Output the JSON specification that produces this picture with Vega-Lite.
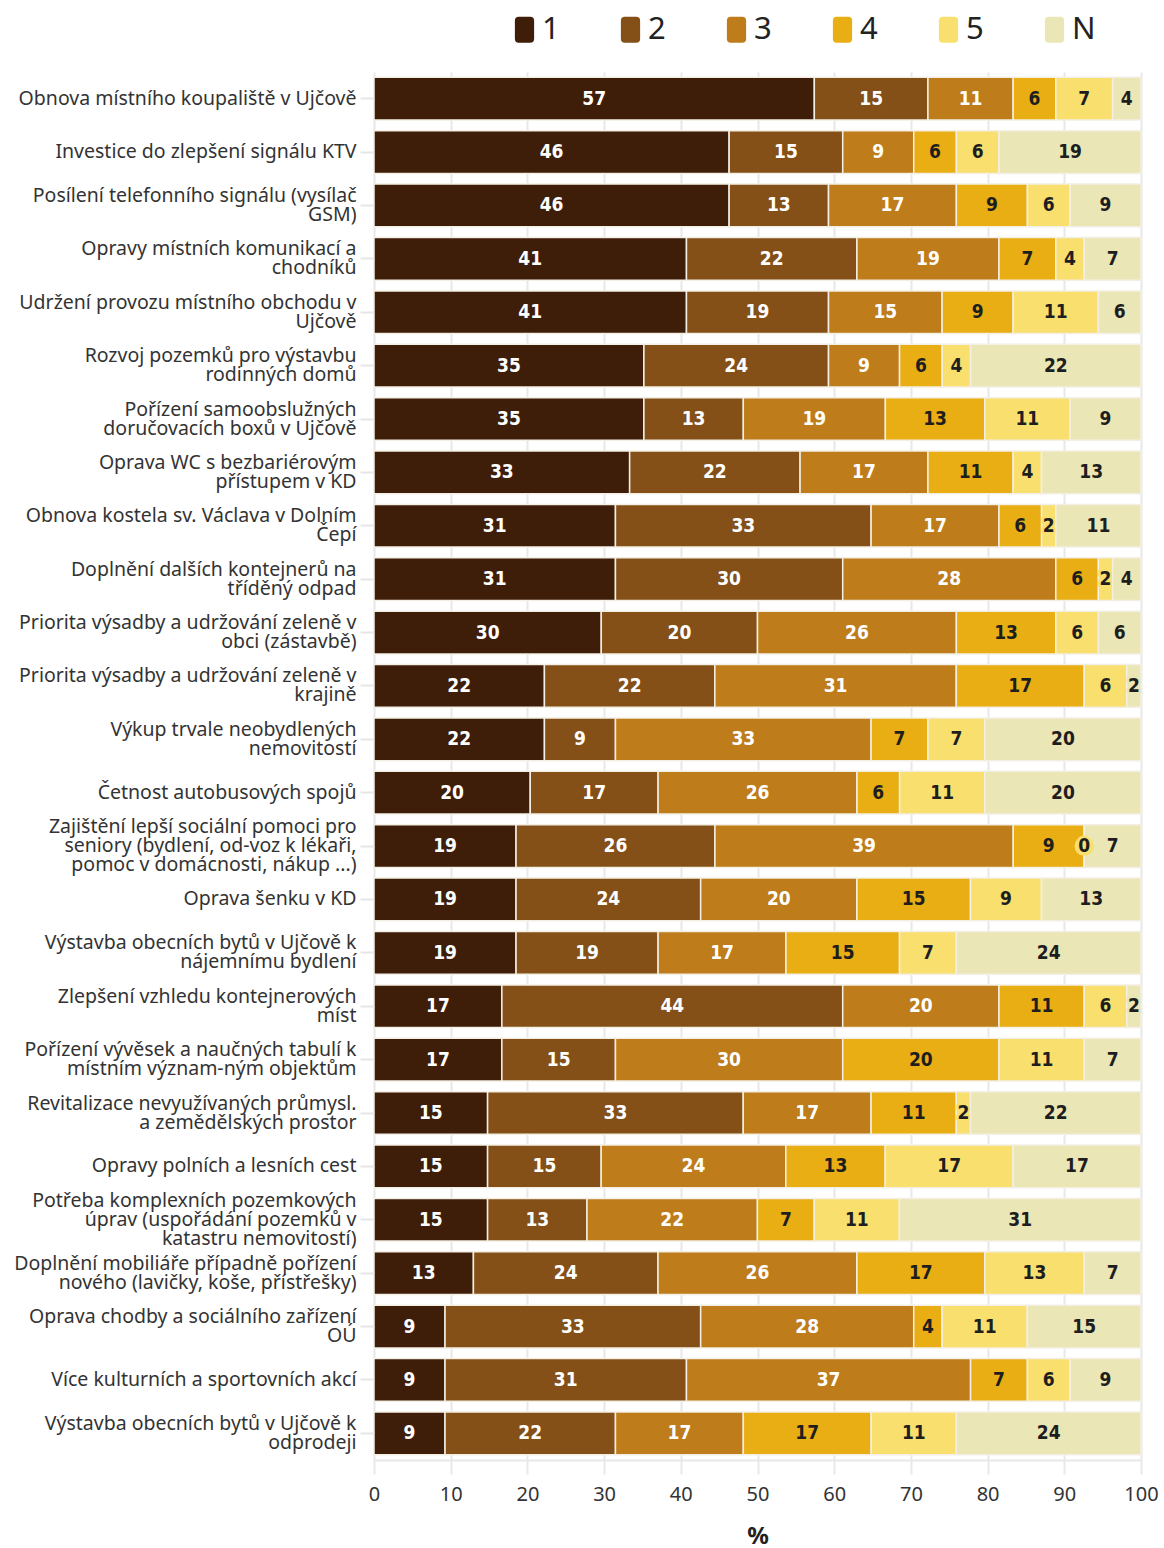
{
  "$schema": "https://vega.github.io/schema/vega-lite/v6.json",
  "width": 767,
  "height": 1388,
  "padding": {"left": 13, "top": 14, "right": 5, "bottom": 5},
  "background": "white",
  "config": {"view": {"stroke": null}, "font": "Noto Sans"},
  "data": {"values": [
    {"q": "Obnova místního koupaliště v Ujčově", "1": 57.41, "2": 14.81, "3": 11.11, "4": 5.56, "5": 7.41, "N": 3.70},
    {"q": "Investice do zlepšení signálu KTV", "1": 46.30, "2": 14.81, "3": 9.26, "4": 5.56, "5": 5.56, "N": 18.52},
    {"q": "Posílení telefonního signálu (vysílač|GSM)", "1": 46.30, "2": 12.96, "3": 16.67, "4": 9.26, "5": 5.56, "N": 9.26},
    {"q": "Opravy místních komunikací a|chodníků", "1": 40.74, "2": 22.22, "3": 18.52, "4": 7.41, "5": 3.70, "N": 7.41},
    {"q": "Udržení provozu místního obchodu v|Ujčově", "1": 40.74, "2": 18.52, "3": 14.81, "4": 9.26, "5": 11.11, "N": 5.56},
    {"q": "Rozvoj pozemků pro výstavbu|rodinných domů", "1": 35.19, "2": 24.07, "3": 9.26, "4": 5.56, "5": 3.70, "N": 22.22},
    {"q": "Pořízení samoobslužných|doručovacích boxů v Ujčově", "1": 35.19, "2": 12.96, "3": 18.52, "4": 12.96, "5": 11.11, "N": 9.26},
    {"q": "Oprava WC s bezbariérovým|přístupem v KD", "1": 33.33, "2": 22.22, "3": 16.67, "4": 11.11, "5": 3.70, "N": 12.96},
    {"q": "Obnova kostela sv. Václava v Dolním|Čepí", "1": 31.48, "2": 33.33, "3": 16.67, "4": 5.56, "5": 1.85, "N": 11.11},
    {"q": "Doplnění dalších kontejnerů na|tříděný odpad", "1": 31.48, "2": 29.63, "3": 27.78, "4": 5.56, "5": 1.85, "N": 3.70},
    {"q": "Priorita výsadby a udržování zeleně v|obci (zástavbě)", "1": 29.63, "2": 20.37, "3": 25.93, "4": 12.96, "5": 5.56, "N": 5.56},
    {"q": "Priorita výsadby a udržování zeleně v|krajině", "1": 22.22, "2": 22.22, "3": 31.48, "4": 16.67, "5": 5.56, "N": 1.85},
    {"q": "Výkup trvale neobydlených|nemovitostí", "1": 22.22, "2": 9.26, "3": 33.33, "4": 7.41, "5": 7.41, "N": 20.37},
    {"q": "Četnost autobusových spojů", "1": 20.37, "2": 16.67, "3": 25.93, "4": 5.56, "5": 11.11, "N": 20.37},
    {"q": "Zajištění lepší sociální pomoci pro|seniory (bydlení, od-voz k lékaři,|pomoc v domácnosti, nákup ...)", "1": 18.52, "2": 25.93, "3": 38.89, "4": 9.26, "5": 0, "N": 7.41},
    {"q": "Oprava šenku v KD", "1": 18.52, "2": 24.07, "3": 20.37, "4": 14.81, "5": 9.26, "N": 12.96},
    {"q": "Výstavba obecních bytů v Ujčově k|nájemnímu bydlení", "1": 18.52, "2": 18.52, "3": 16.67, "4": 14.81, "5": 7.41, "N": 24.07},
    {"q": "Zlepšení vzhledu kontejnerových|míst", "1": 16.67, "2": 44.44, "3": 20.37, "4": 11.11, "5": 5.56, "N": 1.85},
    {"q": "Pořízení vývěsek a naučných tabulí k|místním význam-ným objektům", "1": 16.67, "2": 14.81, "3": 29.63, "4": 20.37, "5": 11.11, "N": 7.41},
    {"q": "Revitalizace nevyužívaných průmysl.|a zemědělských prostor", "1": 14.81, "2": 33.33, "3": 16.67, "4": 11.11, "5": 1.85, "N": 22.22},
    {"q": "Opravy polních a lesních cest", "1": 14.81, "2": 14.81, "3": 24.07, "4": 12.96, "5": 16.67, "N": 16.67},
    {"q": "Potřeba komplexních pozemkových|úprav (uspořádání pozemků v|katastru nemovitostí)", "1": 14.81, "2": 12.96, "3": 22.22, "4": 7.41, "5": 11.11, "N": 31.48},
    {"q": "Doplnění mobiliáře případně pořízení|nového (lavičky, koše, přístřešky)", "1": 12.96, "2": 24.07, "3": 25.93, "4": 16.67, "5": 12.96, "N": 7.41},
    {"q": "Oprava chodby a sociálního zařízení|OÚ", "1": 9.26, "2": 33.33, "3": 27.78, "4": 3.70, "5": 11.11, "N": 14.81},
    {"q": "Více kulturních a sportovních akcí", "1": 9.26, "2": 31.48, "3": 37.04, "4": 7.41, "5": 5.56, "N": 9.26},
    {"q": "Výstavba obecních bytů v Ujčově k|odprodeji", "1": 9.26, "2": 22.22, "3": 16.67, "4": 16.67, "5": 11.11, "N": 24.07}
  ]},
  "transform": [{"fold": ["1", "2", "3", "4", "5", "N"], "as": ["k", "v"]}],
  "encoding": {
    "y": {
      "field": "q", "type": "nominal", "sort": null, "title": null,
      "scale": {"paddingInner": 0.2, "paddingOuter": 0.1},
      "axis": {
        "labelExpr": "split(datum.label, '|')",
        "labelOffset": {"expr": "-(length(split(datum.label, '|')) - 1) * 9.5"},
        "labelFont": "Noto Sans", "labelFontSize": 19.5, "labelColor": "#333",
        "labelLineHeight": 19, "labelLimit": 500, "labelPadding": 4,
        "domain": false, "tickColor": "#e6e6e6", "tickWidth": 2, "tickSize": 14
      }
    }
  },
  "layer": [
    {
      "mark": {"type": "bar", "stroke": "#f4efe4", "strokeWidth": 1.5},
      "encoding": {
        "x": {
          "field": "v", "type": "quantitative", "stack": "zero",
          "scale": {"domain": [0, 100], "nice": false},
          "title": "%",
          "axis": {
            "values": [0, 10, 20, 30, 40, 50, 60, 70, 80, 90, 100],
            "grid": true, "gridColor": "#e8e8e8", "gridWidth": 2,
            "domainColor": "#e8e8e8", "domainWidth": 2,
            "tickColor": "#e8e8e8", "tickWidth": 2, "tickSize": 14,
            "labelFont": "Noto Sans", "labelFontSize": 20, "labelColor": "#333", "labelPadding": 10,
            "labelFlush": false,
            "titleFont": "Noto Sans", "titleFontSize": 24, "titleFontWeight": "bold", "titleColor": "#222", "titlePadding": 20
          }
        },
        "color": {
          "field": "k", "type": "nominal",
          "scale": {"domain": ["1", "2", "3", "4", "5", "N"], "range": ["#3e1d09", "#845017", "#be7c1a", "#e9ae13", "#f9df6e", "#ebe6b5"]},
          "legend": {
            "orient": "none", "legendX": 135, "legendY": -58, "direction": "horizontal",
            "title": null, "labelFont": "Noto Sans", "labelFontSize": 31, "labelColor": "#222",
            "symbolType": "M-0.74,-0.7 Q-0.74,-1 -0.44,-1 L0.44,-1 Q0.74,-1 0.74,-0.7 L0.74,0.7 Q0.74,1 0.44,1 L-0.44,1 Q-0.74,1 -0.74,0.7 Z",
            "symbolSize": 676, "symbolStrokeWidth": 0, "labelOffset": 2, "columnPadding": 55,
            "symbolOpacity": 1
          }
        },
        "order": {"field": "k"}
      }
    },
    {
      "transform": [
        {"stack": "v", "groupby": ["q"], "sort": [{"field": "k"}], "as": ["v0", "v1"]},
        {"filter": "datum.v == 0"}
      ],
      "mark": {"type": "point", "filled": true, "size": 380, "color": "#f9df6e", "opacity": 1},
      "encoding": {"x": {"field": "v0", "type": "quantitative"}}
    },
    {
      "mark": {"type": "text", "font": "Liberation Sans Narrow, DejaVu Sans Condensed, sans-serif", "fontWeight": "bold", "fontSize": 19, "strokeWidth": 5, "strokeJoin": "round"},
      "encoding": {
        "x": {"field": "v", "type": "quantitative", "stack": "zero", "bandPosition": 0.5},
        "text": {"field": "v", "type": "quantitative", "format": ".0f"},
        "stroke": {"field": "k", "type": "nominal", "legend": null,
          "scale": {"domain": ["1", "2", "3", "4", "5", "N"], "range": ["#3e1d09", "#845017", "#be7c1a", "#e9ae13", "#f9df6e", "#ebe6b5"]}},
        "order": {"field": "k"},
        "color": {"condition": {"test": "datum.k == '1' || datum.k == '2' || datum.k == '3'", "value": "white"}, "value": "#1e1e1e"}
      }
    },
    {
      "mark": {"type": "text", "font": "Liberation Sans Narrow, DejaVu Sans Condensed, sans-serif", "fontWeight": "bold", "fontSize": 19},
      "encoding": {
        "x": {"field": "v", "type": "quantitative", "stack": "zero", "bandPosition": 0.5},
        "text": {"field": "v", "type": "quantitative", "format": ".0f"},
        "order": {"field": "k"},
        "color": {"condition": {"test": "datum.k == '1' || datum.k == '2' || datum.k == '3'", "value": "white"}, "value": "#1e1e1e"}
      }
    }
  ]
}
